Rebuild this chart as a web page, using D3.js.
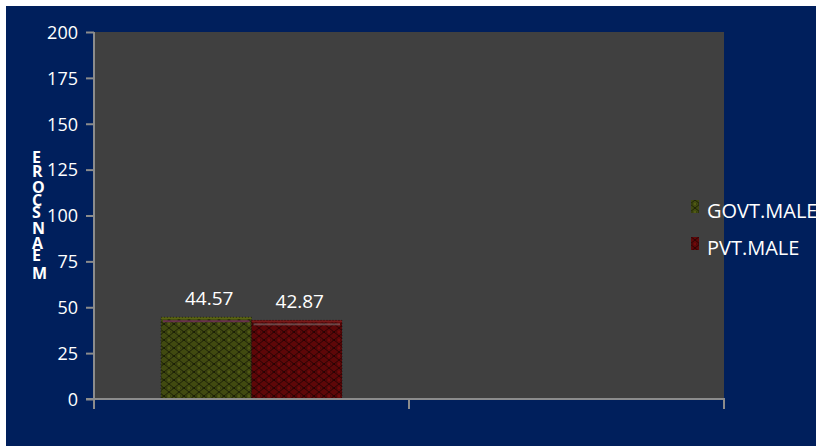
<!DOCTYPE html>
<html>
<head>
<meta charset="utf-8">
<script src="https://cdn.jsdelivr.net/npm/d3@7"></script>
<style>
  html, body { margin: 0; padding: 0; background: #ffffff; }
  svg { display: block; }
  text { font-family: "Open Sans", "DejaVu Sans", sans-serif; }
</style>
</head>
<body>
<svg id="chart" width="816" height="446"></svg>
<script>
// ---- data ----
const categories = ["Group 1", "Group 2"];
const seriesNames = ["GOVT.MALE", "PVT.MALE"];
const govtMale = [44.57, null];
const pvtMale = [42.87, null];
const yTicks = [0, 25, 50, 75, 100, 125, 150, 175, 200];
const yTitle = "MEANSCORE";

const seriesValues = [govtMale, pvtMale];
const seriesColors = ["#414a10", "#5e0708"];
const seriesPatternIds = ["patGreen", "patRed"];

const svg = d3.select("#chart");
const W = 816, H = 446;

// background
svg.append("rect").attr("x", 6).attr("y", 6).attr("width", W - 6).attr("height", H - 6).attr("fill", "#001f5c");

const plot = { left: 95, right: 724, top: 32, bottom: 399 };

// patterns
const defs = svg.append("defs");
seriesColors.forEach((c, i) => {
  const p = defs.append("pattern").attr("id", seriesPatternIds[i])
    .attr("patternUnits", "userSpaceOnUse").attr("width", 10).attr("height", 8);
  p.append("rect").attr("width", 10).attr("height", 8).attr("fill", c);
  p.append("path").attr("d", "M0,4 L5,0 L10,4 L5,8 Z").attr("fill", "none")
    .attr("stroke", "#000").attr("stroke-opacity", 0.55).attr("stroke-width", 1);
  p.append("line").attr("x1", 0).attr("x2", 10).attr("y1", 4).attr("y2", 4)
    .attr("stroke", "#000").attr("stroke-opacity", 0.35).attr("stroke-dasharray", "1,1");
  p.append("circle").attr("cx", 5).attr("cy", 4).attr("r", 1.2).attr("fill", d3.color(c).brighter(0.6));
});

// plot area
svg.append("rect").attr("x", plot.left).attr("y", plot.top)
  .attr("width", plot.right - plot.left).attr("height", plot.bottom - plot.top)
  .attr("fill", "#404040");

// scales
const x0 = d3.scaleBand().domain(categories).range([94, plot.right]).padding(0);
const x1 = d3.scaleBand().domain(seriesNames).range([0, x0.bandwidth()]).paddingInner(0).paddingOuter(0.74);
const y = d3.scaleLinear().domain([0, 200]).range([plot.bottom, plot.top]);

// bars
const groups = svg.append("g").selectAll("g").data(categories).join("g")
  .attr("transform", d => `translate(${x0(d)},0)`);

groups.each(function(cat, ci) {
  const g = d3.select(this);
  seriesNames.forEach((s, si) => {
    const v = seriesValues[si][ci];
    if (v == null) return;
    const bx = x1(s), bw = x1.bandwidth();
    g.append("rect").attr("x", bx).attr("y", y(v)).attr("width", bw).attr("height", y(0) - y(v))
      .attr("fill", `url(#${seriesPatternIds[si]})`);
    g.append("rect").attr("x", bx).attr("y", y(v)).attr("width", bw).attr("height", 2)
      .attr("fill", si === 0 ? "#5a6414" : "#7a1a1a");
    g.append("rect").attr("x", bx + 2).attr("y", y(v) + 3).attr("width", bw - 4).attr("height", 2)
      .attr("fill", si === 0 ? "#7a2a66" : "#7a6262").attr("opacity", 0.7);
    g.append("rect").attr("x", bx).attr("y", y(v)).attr("width", bw).attr("height", y(0) - y(v))
      .attr("fill", "none").attr("stroke", "#000").attr("stroke-opacity", 0.5).attr("stroke-dasharray", "1,2");
    g.append("text").attr("x", bx + bw / 2 + 3).attr("y", y(v) - 12)
      .attr("text-anchor", "middle").attr("fill", "#ffffff").attr("font-size", 19)
      .text(v.toFixed(2));
  });
});

// y axis
const yAxis = svg.append("g").attr("transform", `translate(94,0)`)
  .call(d3.axisLeft(y).tickValues(yTicks).tickSize(8).tickPadding(8));
yAxis.selectAll("path").attr("stroke", "#8c8c8c").attr("stroke-width", 2).attr("d", `M0,${plot.top}V${plot.bottom}`);
yAxis.selectAll("line").attr("stroke", "#8c8c8c").attr("stroke-width", 2);
yAxis.selectAll("text").attr("fill", "#ffffff").attr("font-size", 18)
  .attr("font-family", "'Open Sans', sans-serif").attr("dy", "0.35em");

// x axis (ticks at band boundaries)
const xg = svg.append("g");
xg.append("line").attr("x1", 86).attr("x2", x0.range()[1] + 1).attr("y1", plot.bottom).attr("y2", plot.bottom)
  .attr("stroke", "#8c8c8c").attr("stroke-width", 2);
const bounds = categories.map(c => x0(c)).concat([x0(categories[categories.length - 1]) + x0.bandwidth()]);
xg.selectAll("line.tick").data(bounds).join("line").attr("class", "tick")
  .attr("x1", d => d).attr("x2", d => d).attr("y1", plot.bottom).attr("y2", plot.bottom + 10)
  .attr("stroke", "#8c8c8c").attr("stroke-width", 2);

// y title: rotated -90 with each glyph turned upright (reads bottom to top)
svg.append("text")
  .attr("transform", "translate(32,279) rotate(-90)")
  .attr("x", 0).attr("y", 0)
  .attr("rotate", "90")
  .attr("fill", "#ffffff")
  .attr("font-size", 16).attr("font-weight", "bold")
  .attr("letter-spacing", 3.2)
  .text(yTitle);

// legend
const leg = svg.append("g");
seriesNames.forEach((s, i) => {
  const ly = 213 + i * 37;
  leg.append("rect").attr("x", 691).attr("y", ly - 13).attr("width", 8).attr("height", 13)
    .attr("fill", `url(#${seriesPatternIds[i]})`);
  leg.append("text").attr("x", 707).attr("y", ly + 5).attr("fill", "#ffffff")
    .attr("font-size", 20).text(s);
});
</script>
</body>
</html>
